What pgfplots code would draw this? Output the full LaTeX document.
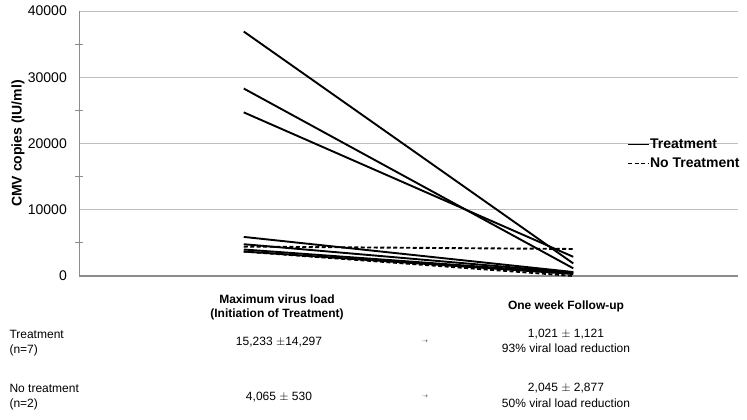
\documentclass[border=0pt]{standalone}
\usepackage{pgfplots}
\pgfplotsset{compat=1.18}
\usepackage{fontspec}
\setmainfont{Liberation Sans}
\newfontfamily\djv{DejaVu Sans}
\newcommand\fs[1]{\fontsize{#1bp}{#1bp}\selectfont}
\begin{document}
\begin{tikzpicture}
\path[use as bounding box] (0,0) rectangle (747bp,-420bp);
\begin{axis}[
  at={(79bp,-276bp)}, anchor=south west,
  scale only axis, width=659bp, height=265bp,
  xmin=0.5, xmax=2.5, ymin=0, ymax=40000,
  xtick=\empty,
  ytick={0,10000,20000,30000,40000},
  minor ytick={5000,15000,25000,35000},
  ymajorgrids,
  major grid style={draw=black!25, line width=0.9bp},
  axis x line*=bottom, axis y line*=left,
  x axis line style={draw=black!45, line width=1.6bp, -},
  y axis line style={draw=black!45, line width=0.8bp, -},
  major tick length=0bp, minor tick length=7bp, tick align=center,
  minor tick style={draw=black!45, line width=0.8bp},
  scaled y ticks=false,
  yticklabel style={font=\fs{14}, inner sep=0pt, xshift=-12bp,
    /pgf/number format/1000 sep={}, /pgf/number format/assume math mode=true},
  ylabel={\bfseries CMV copies (IU/ml)},
  ylabel style={font=\fs{14}, at={(axis description cs:-0.0926,0.5)}, anchor=center},
  legend style={at={(axis description cs:0.8316,0.5226)}, anchor=north west,
    draw=none, fill=none, inner sep=0pt, font=\bfseries\fs{14},
    nodes={inner sep=0pt, text height=10.5bp, text depth=3bp},
    row sep=5.5bp},
  legend cell align=left,
  legend image code/.code={\draw[#1] (0bp,0bp) -- (21bp,0bp);},
  every axis plot/.append style={black, line width=1.9bp},
  clip=false,
]
\addlegendimage{black, line width=1.9bp}
\addlegendentry{Treatment}
\addlegendimage{black, line width=1.9bp, dash pattern=on 4bp off 2.5bp}
\addlegendentry{No Treatment}
% Treatment (n=7)
\addplot[forget plot] coordinates {(1,36900) (2,1900)};
\addplot[forget plot] coordinates {(1,28300) (2,1160)};
\addplot[forget plot] coordinates {(1,24700) (2,2900)};
\addplot[forget plot] coordinates {(1,5900) (2,600)};
\addplot[forget plot] coordinates {(1,4800) (2,500)};
\addplot[forget plot] coordinates {(1,4000) (2,400)};
\addplot[forget plot] coordinates {(1,3700) (2,300)};
% No treatment (n=2)
\addplot[forget plot, dash pattern=on 4bp off 2.5bp] coordinates {(1,4440) (2,4079)};
\addplot[forget plot, dash pattern=on 4bp off 2.5bp] coordinates {(1,3690) (2,11)};
\end{axis}
% table below the chart
\node[anchor=base, font=\bfseries\fs{12}] at (277bp,-303bp) {Maximum virus load};
\node[anchor=base, font=\bfseries\fs{12}] at (277bp,-317bp) {(Initiation of Treatment)};
\node[anchor=base, font=\bfseries\fs{12}] at (566bp,-309bp) {One week Follow-up};
\node[anchor=base west, font=\fs{12}] at (6bp,-338bp) {Treatment};
\node[anchor=base west, font=\fs{12}] at (6bp,-353bp) {(n=7)};
\node[anchor=base, font=\fs{12}] at (279bp,-345bp) {15,233 $\pm$14,297};
\node[anchor=base, font=\djv\fs{7}, text=black!60] at (425bp,-343bp) {⇢};
\node[anchor=base, font=\fs{12}] at (566bp,-337.5bp) {1,021 $\pm$ 1,121};
\node[anchor=base, font=\fs{12}] at (566bp,-352.5bp) {93\% viral load reduction};
\node[anchor=base west, font=\fs{12}] at (6bp,-392bp) {No treatment};
\node[anchor=base west, font=\fs{12}] at (6bp,-407bp) {(n=2)};
\node[anchor=base, font=\fs{12}] at (279bp,-400bp) {4,065 $\pm$ 530};
\node[anchor=base, font=\djv\fs{7}, text=black!60] at (425bp,-398bp) {⇢};
\node[anchor=base, font=\fs{12}] at (566bp,-391.5bp) {2,045 $\pm$ 2,877};
\node[anchor=base, font=\fs{12}] at (566bp,-407.5bp) {50\% viral load reduction};
\end{tikzpicture}
\end{document}
